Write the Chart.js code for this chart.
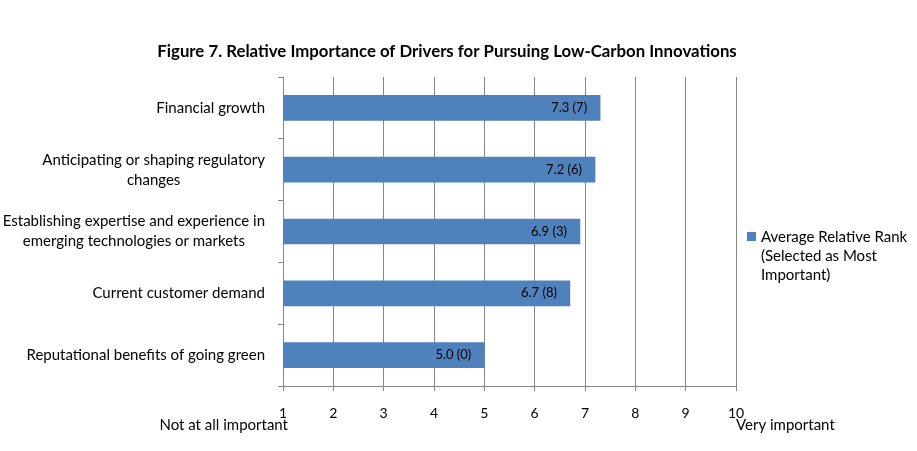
<!DOCTYPE html>
<html lang="en">
<head>
  <meta charset="UTF-8">
  <title>Figure 7</title>
  <script src="https://cdn.jsdelivr.net/npm/chart.js"></script>
  <style>
    body { margin: 0; background: #fff; }
    #wrap { width: 917px; height: 451px; }
  </style>
</head>
<body>
<div id="wrap"><canvas id="myChart" width="917" height="451"></canvas></div>
<script>
  // categories (wrapped the way the original wraps them)
  const categories = [
    ['Financial growth'],
    ['Anticipating or shaping regulatory', 'changes'],
    ['Establishing expertise and experience in', 'emerging technologies or markets'],
    ['Current customer demand'],
    ['Reputational benefits of going green']
  ];
  const avgRank = [7.3, 7.2, 6.9, 6.7, 5.0];
  const mostImportant = [7, 6, 3, 8, 0];
  const xTicks = [1, 2, 3, 4, 5, 6, 7, 8, 9, 10];
  const titleText = 'Figure 7. Relative Importance of Drivers for Pursuing Low-Carbon Innovations';
  const legendLines = ['Average Relative Rank', '(Selected as Most', 'Important)'];
  const lowLabel = 'Not at all important';
  const highLabel = 'Very important';

  const FONT = 'Lato, "Open Sans", sans-serif';
  const BLUE = '#4F81BD';
  const GRID = '#868686';

  const extras = {
    id: 'extras',
    afterDraw(chart) {
      const ctx = chart.ctx;
      const x = chart.scales.x, y = chart.scales.y;
      ctx.save();
      ctx.fillStyle = '#000';

      // title
      ctx.font = 'bold 16.8px ' + FONT;
      ctx.textAlign = 'center';
      ctx.textBaseline = 'middle';
      ctx.fillText(titleText, 447, 52);

      // category labels, lines centred on each other, block right-aligned
      ctx.font = '15px ' + FONT;
      categories.forEach((lines, i) => {
        const cy = y.getPixelForValue(i);
        const w = Math.max(...lines.map(l => ctx.measureText(l).width));
        const cx = x.left - 18 - w / 2;
        const lh = 20;
        lines.forEach((l, j) => {
          ctx.fillText(l, cx, cy + (j - (lines.length - 1) / 2) * lh);
        });
      });

      // value labels inside bar ends
      ctx.font = '13px ' + FONT;
      ctx.textAlign = 'right';
      const meta = chart.getDatasetMeta(0);
      meta.data.forEach((bar, i) => {
        ctx.fillText(avgRank[i].toFixed(1) + ' (' + mostImportant[i] + ')', bar.x - 13, bar.y);
      });

      // axis end captions
      ctx.font = '15px ' + FONT;
      ctx.textAlign = 'right';
      ctx.fillText(lowLabel, x.getPixelForValue(1) + 5, 425);
      ctx.textAlign = 'left';
      ctx.fillText(highLabel, x.getPixelForValue(10), 425);

      // legend
      ctx.fillStyle = BLUE;
      ctx.fillRect(747, 232, 9, 9);
      ctx.fillStyle = '#000';
      ctx.font = '15px ' + FONT;
      legendLines.forEach((l, j) => ctx.fillText(l, 761, 237 + j * 19));
      ctx.restore();
    }
  };

  new Chart(document.getElementById('myChart'), {
    type: 'bar',
    data: {
      labels: categories,
      datasets: [{
        label: 'Average Relative Rank (Selected as Most Important)',
        data: avgRank,
        base: 1,
        backgroundColor: BLUE,
        barThickness: 25
      }]
    },
    options: {
      indexAxis: 'y',
      responsive: false,
      animation: false,
      layout: { padding: { top: 77, left: 0, right: 181, bottom: 0 } },
      plugins: {
        legend: { display: false },
        title: { display: false },
        tooltip: { enabled: false }
      },
      scales: {
        x: {
          min: 1,
          max: 10,
          afterFit: s => { s.height = 65; },
          afterBuildTicks: s => { s.ticks = xTicks.map(v => ({ value: v })); },
          grid: { color: GRID, tickLength: 5, drawTicks: true },
          border: { color: GRID },
          ticks: { color: '#000', padding: 14, font: { family: FONT, size: 14 } }
        },
        y: {
          afterFit: s => { s.width = 283; },
          grid: { offset: true, drawOnChartArea: false, color: GRID, tickLength: 5 },
          border: { color: GRID },
          ticks: { display: false }
        }
      }
    },
    plugins: [extras]
  });
</script>
</body>
</html>
